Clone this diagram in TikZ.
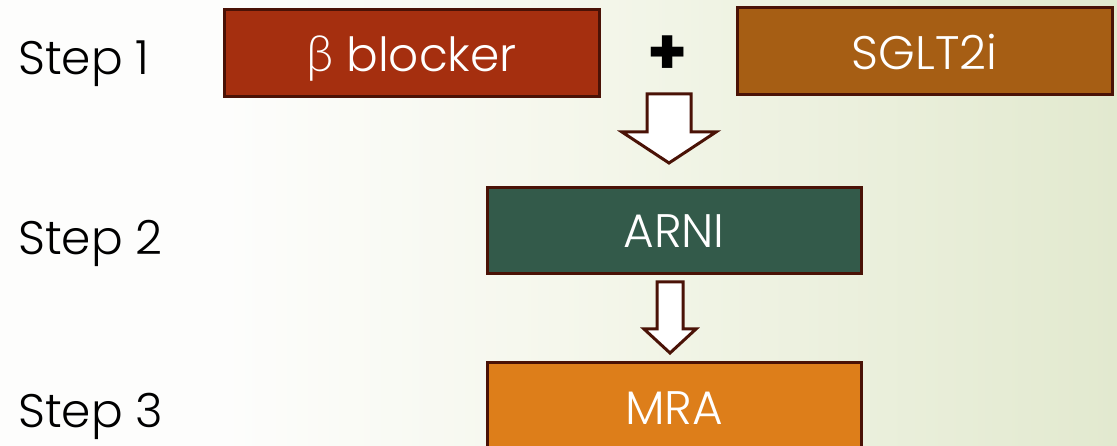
\documentclass[tikz,border=0pt]{standalone}
\usepackage{fontspec}
\IfFontExistsTF{Poppins Light}{\setmainfont{Poppins Light}}{\setmainfont{Poppins}}
\IfFontExistsTF{Lato Light}{\newfontfamily\grk{Lato Light}}{%
  \IfFontExistsTF{Open Sans Light}{\newfontfamily\grk{Open Sans Light}}{\newfontfamily\grk{DejaVu Sans}}}
\newfontfamily\boldplus{Poppins}
\usetikzlibrary{calc}
\definecolor{edge}{HTML}{4A1206}
\definecolor{cBeta}{HTML}{A52F0F}
\definecolor{cSglt}{HTML}{A65E14}
\definecolor{cArni}{HTML}{335A4A}
\definecolor{cMra}{HTML}{DD7E1A}
\definecolor{bgA}{HTML}{FDFDFC}
\definecolor{bgB}{HTML}{F5F7EC}
\definecolor{bgC}{HTML}{E2E9CF}
\pgfdeclarehorizontalshading{bgshade}{100bp}{
  color(0bp)=(bgA);
  color(35bp)=(bgA);
  color(50bp)=(bgB);
  color(75bp)=(bgC);
  color(100bp)=(bgC)}
\tikzset{
  box/.style={draw=edge, line width=3pt, minimum width=375pt, minimum height=87pt,
    inner sep=0pt, text=white, text depth=0pt, font=\fontsize{47}{50}\selectfont},
  steplabel/.style={anchor=west, inner sep=0pt, text=black, text depth=0pt, font=\fontsize{47}{50}\selectfont},
  blockarrow/.style={draw=edge, fill=white, line width=3pt, line join=miter}
}
\begin{document}
\begin{tikzpicture}[x=1pt,y=-1pt]
\useasboundingbox (0,0) rectangle (1117,446);
\shade[shading=bgshade] (0,0) rectangle (1117,446);
% labels
\node[steplabel] (s1) at (18,58) {Step 1};
\node[steplabel] (s2) at (18,237) {Step 2};
\node[steplabel] (s3) at (18,410) {Step 3};
% boxes
\node[box, fill=cBeta] (beta) at (411.5,53.5) {{\grk\fontsize{50}{52}\selectfont β} blocker};
\node[box, fill=cSglt] (sglt) at (924.5,51.5) {SGLT2i};
\node[box, fill=cArni, minimum width=374pt, minimum height=86pt] (arni) at (674,231) {ARNI};
\node[box, fill=cMra, minimum width=374pt, minimum height=100pt] (mra) at (674,413) {};
\node[text=white, text depth=0pt, font=\fontsize{47}{50}\selectfont, inner sep=0pt] (mratxt) at (674,408) {MRA};
\node[font=\fontsize{64}{66}\boldplus\bfseries, inner sep=0pt] (plus) at (668,55) {+};
% block arrows
\coordinate (a1s) at (669,94);
\coordinate (a1e) at (669,163);
\draw[blockarrow] ($(a1s)+(-22,0)$) -- ($(a1s)+(22,0)$) -- ($(a1e)+(22,-31)$) -- ($(a1e)+(47,-31)$)
  -- (a1e) -- ($(a1e)+(-47,-31)$) -- ($(a1e)+(-22,-31)$) -- cycle;
\coordinate (a2s) at (670,282);
\coordinate (a2e) at (670,353);
\draw[blockarrow] ($(a2s)+(-13,0)$) -- ($(a2s)+(13,0)$) -- ($(a2e)+(13,-24)$) -- ($(a2e)+(26,-24)$)
  -- (a2e) -- ($(a2e)+(-26,-24)$) -- ($(a2e)+(-13,-24)$) -- cycle;
\end{tikzpicture}
\end{document}
